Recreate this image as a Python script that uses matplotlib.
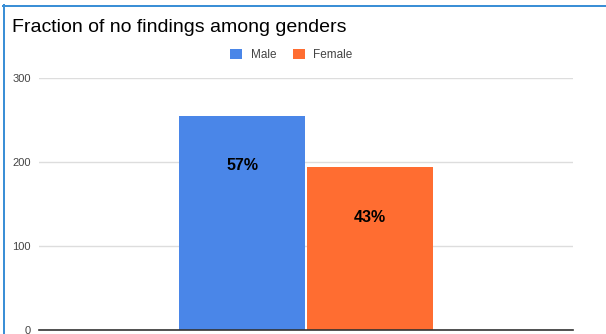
import matplotlib
matplotlib.use("Agg")
import matplotlib.pyplot as plt
from matplotlib.patches import Patch
from matplotlib.lines import Line2D

plt.rcParams['font.family'] = ['Liberation Sans', 'DejaVu Sans']

series = ["Male", "Female"]
values = [255, 194]
labels = ["57%", "43%"]
colors = ["#4a86e8", "#ff6d31"]
yticks = [0, 100, 200, 300]

W, H = 606, 334
fig = plt.figure(figsize=(W / 100, H / 100), dpi=100)
ax = fig.add_axes([39 / W, 4 / H, (573 - 39) / W, (330 - 78) / H])

width = 0.238
offsets = [-width / 2, width / 2]
for i, (s, v, c, lab) in enumerate(zip(series, values, colors, labels)):
    ax.bar(offsets[i], v, width=width * 0.992, color=c, zorder=2)
    ax.annotate(lab, (offsets[i], v), xytext=(0, -50), textcoords='offset pixels',
                ha='center', va='center', fontsize=11.5, fontweight='bold',
                color='#000000', zorder=3)

ax.set_xlim(-0.5, 0.5)
ax.set_ylim(0, 300)
ax.set_yticks(yticks)
ax.set_yticklabels([str(t) for t in yticks])
ax.set_xticks([])
for sp in ax.spines.values():
    sp.set_visible(False)
ax.tick_params(axis='y', length=0, pad=5.8, labelsize=8, labelcolor='#444444')
ax.grid(axis='y', color='#dddddd', linewidth=1.0, zorder=0)
ax.axhline(0, color='#333333', linewidth=1.2, zorder=4, clip_on=False)

fig.text(12 / W, 1 - 32 / H, "Fraction of no findings among genders",
         fontsize=14, color='#000000', ha='left', va='baseline')

handles = [Patch(facecolor=c, edgecolor='none') for c in colors]
fig.legend(handles, series, loc='center', bbox_to_anchor=(291.5 / W, 1 - 55 / H),
           ncol=2, frameon=False, fontsize=8.5, handlelength=1.0, handleheight=1.0,
           handletextpad=0.7, columnspacing=1.45, labelcolor='#444444',
           borderpad=0, borderaxespad=0)

border = '#3b8fd6'
fig.add_artist(Line2D([3.5 / W, 3.5 / W], [0, 1 - 5 / H], transform=fig.transFigure,
                      color=border, linewidth=1.44))
fig.add_artist(Line2D([3 / W, 1], [1 - 5.5 / H, 1 - 5.5 / H], transform=fig.transFigure,
                      color=border, linewidth=1.44))

fig.savefig("out.png", dpi=100)
